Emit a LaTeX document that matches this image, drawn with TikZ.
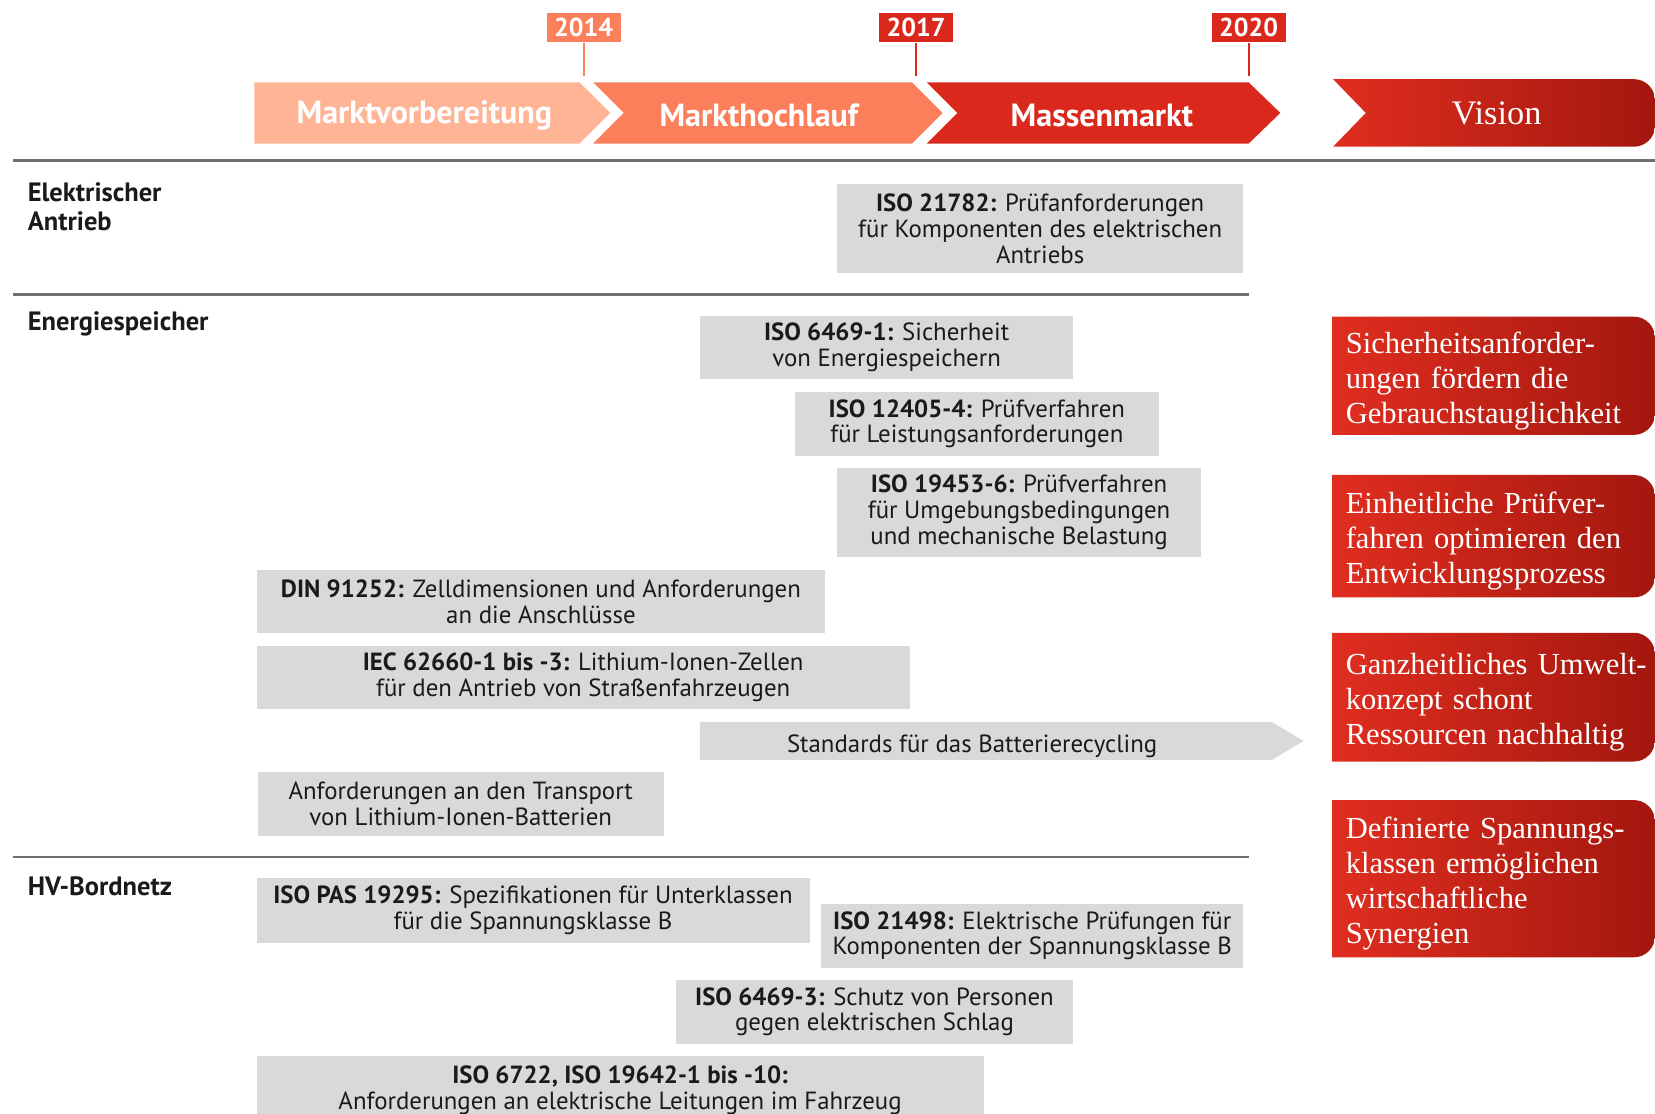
\documentclass[tikz,border=0pt]{standalone}
\usepackage{fontspec}
\setmainfont{Liberation Serif}
\setsansfont{PT Sans}
\usetikzlibrary{positioning}
\definecolor{phaseone}{HTML}{FFB496}
\definecolor{phasetwo}{HTML}{FC7F5B}
\definecolor{massred}{HTML}{DA291C}
\definecolor{visred}{HTML}{E02E20}
\definecolor{visdark}{HTML}{A3170E}
\definecolor{boxgray}{HTML}{D9D9D9}
\definecolor{linegray}{HTML}{707070}
\definecolor{inkblack}{HTML}{1A1A1A}

\begin{document}
\begin{tikzpicture}[x=0.02cm, y=-0.02cm,
    std/.style={fill=boxgray, align=center, inner sep=0pt, text=inkblack,
                font=\sffamily\fontsize{13.4}{13.9}\selectfont,
                execute at begin node={\rule{0pt}{14.5pt}}},
    phase/.style={text=white, font=\sffamily\bfseries\fontsize{17.3}{19}\selectfont},
    year/.style={text=white, minimum width=1.4cm, minimum height=0.56cm, inner sep=0pt,
                 font=\sffamily\bfseries\fontsize{14}{15}\selectfont},
    tick/.style={line width=1.2pt},
    sep/.style={draw=linegray, line width=1.4pt},
    row/.style={anchor=west, align=left, text=inkblack, inner sep=0pt,
                font=\sffamily\bfseries\fontsize{14.3}{15.9}\selectfont},
    visbox/.style={minimum width=6.12cm, text width=5.6cm, align=left, inner sep=0pt,
                   text=white, font=\fontsize{16.5}{18.8}\selectfont,
                   execute at begin node={\rule{0pt}{17pt}},
                   path picture={
                     \path[clip, rounded corners=0.4cm]
                       ([xshift=-1cm]path picture bounding box.north west) rectangle
                       (path picture bounding box.south east);
                     \shade[left color=visred, right color=visdark]
                       (path picture bounding box.north west) rectangle
                       (path picture bounding box.south east);}}
]
\useasboundingbox (0,0) rectangle (1568,1055);
\clip (0,0) rectangle (1568,1055);

% --- phases ---
\fill[phaseone] (241,78) -- (549,78) -- (578,107) -- (549,136) -- (241,136) -- cycle;
\fill[phasetwo] (562,78) -- (864,78) -- (893,107) -- (864,136) -- (562,136) -- (591,107) -- cycle;
\fill[massred] (878,78) -- (1183,78) -- (1213,107) -- (1183,136) -- (878,136) -- (907,107) -- cycle;
\begin{scope}
  \clip[rounded corners=0.4cm] (1200,75) rectangle (1568,139);
  \shade[left color=visred, right color=visdark]
    (1263,75) -- (1568,75) -- (1568,139) -- (1263,139) -- (1294,107) -- cycle;
\end{scope}
\node[phase] (prep) at (402,109)  {Marktvorbereitung};
\node[phase] (ramp) at (719,109)  {Markthochlauf};
\node[phase] (mass) at (1044,109) {Massenmarkt};
\node[text=white, font=\fontsize{18.5}{20}\selectfont] (vision) at (1418,107) {Vision};

% --- years ---
\node[year, fill=phasetwo] (y14) at (553,26)  {2014};
\node[year, fill=massred]  (y17) at (868,26)  {2017};
\node[year, fill=massred]  (y20) at (1183,26) {2020};
\coordinate (t14) at (553,72);
\coordinate (t17) at (868,72);
\coordinate (t20) at (1183,72);
\draw[tick, phasetwo] (y14.south) -- (t14);
\draw[tick, massred]  (y17.south) -- (t17);
\draw[tick, massred]  (y20.south) -- (t20);

% --- rows ---
\draw[sep] (12,152) -- (1568,152);
\draw[sep] (12,279) -- (1183,279);
\draw[sep] (12,812) -- (1183,812);
\node[row] (drive) at (26,196) {Elektrischer\\Antrieb};
\node[row] (store) at (26,307) {Energiespeicher};
\node[row] (hvnet) at (26,840) {HV-Bordnetz};

% --- standards ---
\node[std, minimum width=7.70cm, minimum height=1.70cm] (iso21782) at (985.5,216.5)
  {\textbf{ISO 21782:} Prüfanforderungen\\für Komponenten des elektrischen\\Antriebs};
\node[std, minimum width=7.08cm, minimum height=1.20cm] (iso6469a) at (840,329)
  {\textbf{ISO 6469-1:} Sicherheit\\von Energiespeichern};
\node[std, minimum width=6.90cm, minimum height=1.22cm] (iso12405) at (925.5,401.5)
  {\textbf{ISO 12405-4:} Prüfverfahren\\für Leistungsanforderungen};
\node[std, minimum width=6.90cm, minimum height=1.70cm] (iso19453) at (965.5,485.5)
  {\textbf{ISO 19453-6:} Prüfverfahren\\für Umgebungsbedingungen\\und mechanische Belastung};
\node[std, minimum width=10.78cm, minimum height=1.20cm] (din91252) at (512.5,570)
  {\textbf{DIN 91252:} Zelldimensionen und Anforderungen\\an die Anschlüsse};
\node[std, minimum width=12.38cm, minimum height=1.20cm] (iec62660) at (552.5,642)
  {\textbf{IEC 62660-1 bis -3:} Lithium-Ionen-Zellen\\für den Antrieb von Straßenfahrzeugen};
\fill[boxgray] (663,684) -- (1205,684) -- (1235,702) -- (1205,720) -- (663,720) -- cycle;
\node[std, fill=none] (recycle) at (921,703) {Standards für das Batterierecycling};
\node[std, minimum width=7.70cm, minimum height=1.22cm] (transport) at (436.5,761.5)
  {Anforderungen an den Transport\\von Lithium-Ionen-Batterien};
\node[std, minimum width=10.48cm, minimum height=1.22cm] (pas19295) at (505,862.5)
  {\textbf{ISO PAS 19295:} Spezifikationen für Unterklassen\\für die Spannungsklasse B};
\node[std, minimum width=8.00cm, minimum height=1.22cm] (iso21498) at (978,886.5)
  {\textbf{ISO 21498:} Elektrische Prüfungen für\\Komponenten der Spannungsklasse B};
\node[std, minimum width=7.54cm, minimum height=1.22cm] (iso6469c) at (828.5,958.5)
  {\textbf{ISO 6469-3:} Schutz von Personen\\gegen elektrischen Schlag};
\node[std, anchor=north, minimum width=13.78cm, minimum height=1.30cm] (iso6722) at (587.5,1000)
  {\textbf{ISO 6722, ISO 19642-1 bis -10:}\\Anforderungen an elektrische Leitungen im Fahrzeug};

% --- vision ---
\node[visbox, minimum height=2.24cm] (safety) at (1415,356)
  {Sicherheitsanforder-\\ungen fördern die\\Gebrauchstauglichkeit};
\node[visbox, minimum height=2.32cm] (testing) at (1415,508)
  {Einheitliche Prüfver-\\fahren optimieren den\\Entwicklungsprozess};
\node[visbox, minimum height=2.44cm] (ecology) at (1415,660.5)
  {\mbox{Ganzheitliches Umwelt-}\\konzept schont\\Ressourcen nachhaltig};
\node[visbox, minimum height=2.98cm] (voltage) at (1415,832.5)
  {Definierte Spannungs-\\klassen ermöglichen\\wirtschaftliche\\Synergien};

\end{tikzpicture}
\end{document}
